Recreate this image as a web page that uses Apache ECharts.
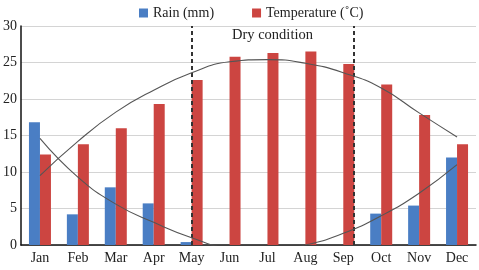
<!DOCTYPE html>
<html><head><meta charset="utf-8">
<script src="https://cdn.jsdelivr.net/npm/echarts@6/dist/echarts.min.js"></script>
<style>html,body{margin:0;padding:0;background:#fff}#c{width:479px;height:270px}</style>
</head><body><div id="c"></div>
<script>
const months = ['Jan','Feb','Mar','Apr','May','Jun','Jul','Aug','Sep','Oct','Nov','Dec'];
const rain = [16.8, 4.2, 7.9, 5.7, 0.4, 0, 0, 0, 0, 4.3, 5.4, 12.0];
const temperature = [12.4, 13.8, 16.0, 19.3, 22.6, 25.8, 26.3, 26.5, 24.8, 22.0, 17.8, 13.8];
const rainTrend = [14.6, 9.3, 5.6, 3.1, 1.0, -0.4, -0.6, 0.0, 1.6, 4.0, 7.1, 11.0];
const tempTrend = [9.5, 14.2, 18.2, 21.2, 23.6, 25.1, 25.4, 24.9, 23.6, 21.5, 18.1, 14.8];
const dryBounds = [4.5, 8.78];
const yTicks = [0, 5, 10, 15, 20, 25, 30];

const font = 'Liberation Serif';
const chart = echarts.init(document.getElementById('c'));
chart.setOption({
  animation: false,
  textStyle: {fontFamily: font},
  grid: {left: 19, right: 3, top: 26, bottom: 25, containLabel: false},
  legend: {
    data: ['Rain (mm)', 'Temperature (˚C)'],
    top: 1, left: 134, icon: 'rect', itemWidth: 9, itemHeight: 9, itemGap: 38,
    textStyle: {fontFamily: font, fontSize: 14, color: '#222'}
  },
  graphic: [{type: 'text', left: 232, top: 28, style: {text: 'Dry condition', font: '14.5px "Liberation Serif"', fill: '#222'}}],
  xAxis: [{
    type: 'category', data: months,
    axisLine: {lineStyle: {color: '#111', width: 1.5}},
    axisTick: {show: false},
    axisLabel: {fontFamily: font, fontSize: 14, color: '#222', margin: 6}
  }, {
    type: 'value', min: 0, max: 12, show: false
  }],
  yAxis: {
    type: 'value', min: yTicks[0], max: yTicks[yTicks.length - 1], interval: 5,
    axisLine: {show: true, lineStyle: {color: '#111', width: 1.5}},
    axisTick: {show: false},
    splitLine: {lineStyle: {color: '#d4d4d4'}},
    axisLabel: {fontFamily: font, fontSize: 14, color: '#222', margin: 4}
  },
  series: [
    {name: 'Rain (mm)', type: 'bar', data: rain, barWidth: 11, barGap: '0%', itemStyle: {color: '#4a7ec4'}},
    {name: 'Temperature (˚C)', type: 'bar', data: temperature, barWidth: 11, itemStyle: {color: '#cc4541'}},
    {name: 'rainTrend', type: 'line', data: rainTrend, smooth: 0.5, symbol: 'none', clip: true,
      lineStyle: {color: '#555', width: 1.1}, z: 5},
    {name: 'tempTrend', type: 'line', data: tempTrend, smooth: 0.5, symbol: 'none',
      lineStyle: {color: '#555', width: 1.1}, z: 5},
    {name: 'dry', type: 'scatter', xAxisIndex: 1, data: [], silent: true,
      markLine: {silent: true, symbol: 'none', label: {show: false},
        lineStyle: {color: '#333', type: [4, 3], width: 2},
        data: dryBounds.map(v => ({xAxis: v}))}}
  ]
});
</script></body></html>
